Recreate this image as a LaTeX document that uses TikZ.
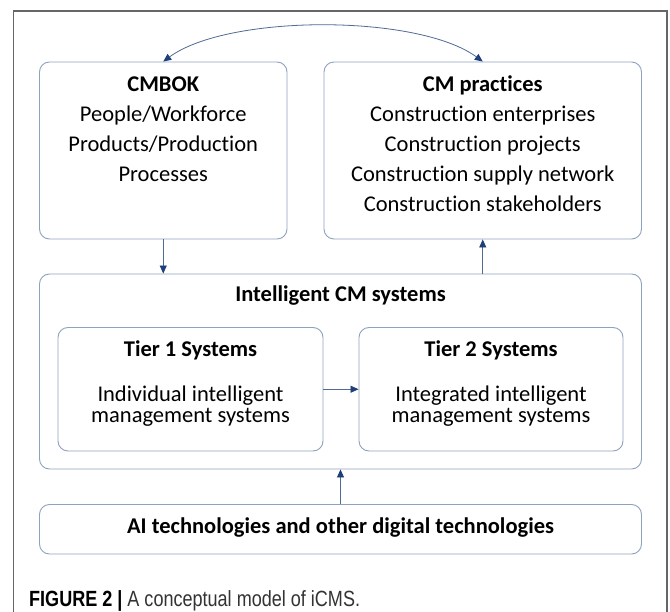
\documentclass[tikz,border=0pt]{standalone}
\usepackage{fontspec}
\setmainfont[Ligatures=NoCommon]{Carlito}
\newfontfamily\capfont[FakeStretch=0.82]{Liberation Sans}
\usetikzlibrary{arrows.meta}
\definecolor{boxline}{HTML}{8EA2BF}
\definecolor{linkline}{HTML}{4F6B96}
\definecolor{tipfill}{HTML}{1F3F7A}
\definecolor{framegray}{HTML}{666666}
\definecolor{captext}{HTML}{333333}

\begin{document}
\begin{tikzpicture}[x=1pt,y=-1pt,
  panel/.style={draw=boxline, line width=0.9pt, rounded corners=10pt, inner sep=0pt},
  txt/.style={font=\fontsize{22.5}{26}\selectfont, anchor=base, inner sep=0pt},
  hdr/.style={txt, font=\fontsize{22.5}{26}\selectfont\bfseries},
  link/.style={draw=linkline, line width=0.8pt, -{Triangle[length=8pt,width=7pt,color=tipfill]}}]

\clip (0,0) rectangle (670,612);
\fill[white] (0,0) rectangle (670,612);

% outer frame (open at the bottom)
\draw[framegray, line width=1.5pt] (13.5,630) -- (13.5,11) -- (667,11) -- (667,630);

% boxes
\node[panel, minimum width=247.5pt, minimum height=177pt] (cmbok) at (163.25,150.5) {};
\node[panel, minimum width=317.5pt, minimum height=177pt] (cmp) at (482.75,150.5) {};
\node[panel, minimum width=602pt, minimum height=195pt] (ics) at (340.5,371.5) {};
\node[panel, minimum width=265pt, minimum height=123.5pt] (tier1) at (190.5,389.25) {};
\node[panel, minimum width=264pt, minimum height=123.5pt] (tier2) at (491,389.25) {};
\node[panel, minimum width=602pt, minimum height=49.5pt] (ai) at (340.5,529.25) {};

% CMBOK text
\node[hdr] (cmbokT) at (163.25,92) {CMBOK};
\node[txt] (cmbokA) at (163.25,122) {People/Workforce};
\node[txt] (cmbokB) at (163.25,152) {Products/Production};
\node[txt] (cmbokC) at (163.25,182) {Processes};

% CM practices text
\node[hdr] (cmpT) at (482.75,92) {CM practices};
\node[txt] (cmpA) at (482.75,122) {Construction enterprises};
\node[txt] (cmpB) at (482.75,152) {Construction projects};
\node[txt] (cmpC) at (482.75,182) {Construction supply network};
\node[txt] (cmpD) at (482.75,212) {Construction stakeholders};

% intelligent CM systems
\node[hdr] (icsT) at (340.5,302) {Intelligent CM systems};
\node[hdr] (t1T) at (190.5,357) {Tier 1 Systems};
\node[txt] (t1A) at (190.5,402) {Individual intelligent};
\node[txt] (t1B) at (190.5,423) {management systems};
\node[hdr] (t2T) at (491,357) {Tier 2 Systems};
\node[txt] (t2A) at (491,402) {Integrated intelligent};
\node[txt] (t2B) at (491,423) {management systems};

% technologies
\node[hdr] (aiT) at (340.5,533) {AI technologies and other digital technologies};

% connectors
\draw[link] (cmbok.south) -- (ics.north -| cmbok.south);
\draw[link] (ics.north -| cmp.south) -- (cmp.south);
\draw[link] (tier1.east) -- (tier2.west);
\draw[link] (ai.north) -- (ics.south);
\draw[draw=linkline, line width=0.8pt, {Triangle[length=8pt,width=7pt,color=tipfill]}-{Triangle[length=8pt,width=7pt,color=tipfill]}]
  (cmbok.north) .. controls (228,14) and (418,14) .. (cmp.north);

% caption
\node[anchor=base west, inner sep=0pt, font=\capfont\fontsize{22}{26}\selectfont] (cap) at (29,606)
  {\textbf{FIGURE 2 |} \textcolor{captext}{A conceptual model of iCMS.}};
\end{tikzpicture}
\end{document}
